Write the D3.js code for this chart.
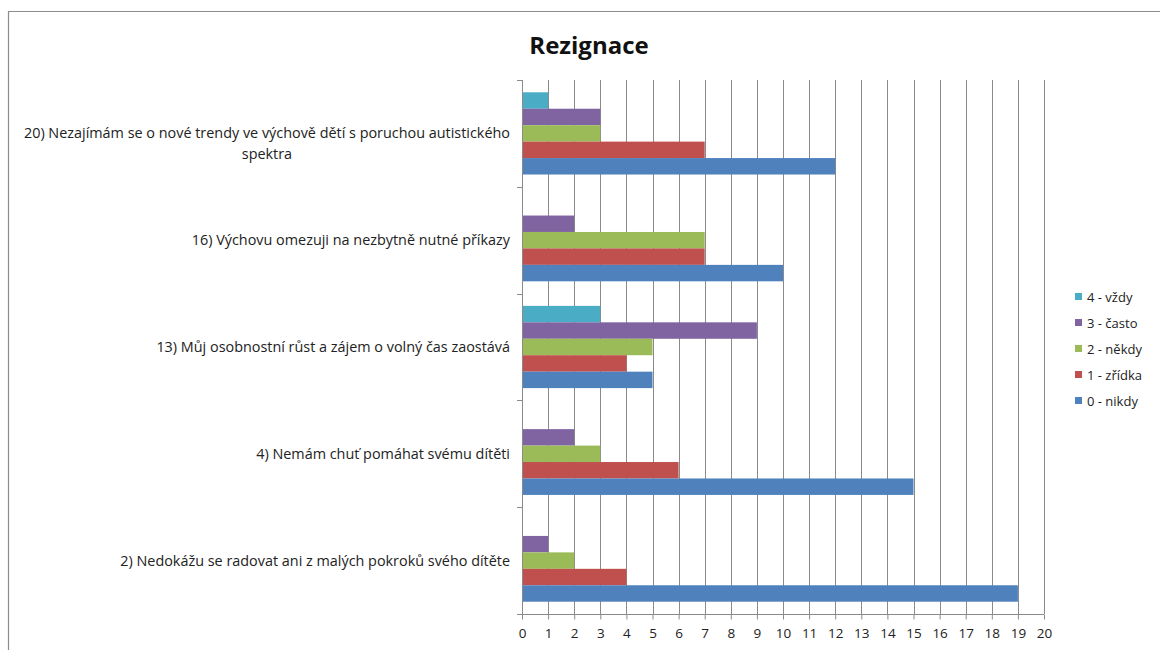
<!DOCTYPE html>
<html>
<head>
<meta charset="utf-8">
<script src="https://cdn.jsdelivr.net/npm/d3@7"></script>
<style>
  body { margin: 0; background: #fff; }
  svg { font-family: "Open Sans", Lato, sans-serif; }
</style>
</head>
<body>
<div id="chart"></div>
<script>
// otazky shora dolu
const questions = [
    "20) Nezajímám se o nové trendy ve výchově dětí s poruchou autistického spektra",
    "16) Výchovu omezuji na nezbytně nutné příkazy",
    "13) Můj osobnostní růst a zájem o volný čas zaostává",
    "4) Nemám chuť pomáhat svému dítěti",
    "2) Nedokážu se radovat ani z malých pokroků svého dítěte"
];
const answers = ["4 - vždy", "3 - často", "2 - někdy", "1 - zřídka", "0 - nikdy"];
const vzdy    = [1, 0, 3, 0, 0];
const casto   = [3, 2, 9, 2, 1];
const nekdy   = [3, 7, 5, 3, 2];
const zridka  = [7, 7, 4, 6, 4];
const nikdy   = [12, 10, 5, 15, 19];
const xTicks = d3.range(0, 21);

const seriesValues = [vzdy, casto, nekdy, zridka, nikdy];
const colors = ["#4BACC6", "#8064A2", "#9BBB59", "#C0504D", "#4F81BD"];

const W = 1160, H = 650;
const plot = {left: 522, right: 1044, top: 80, bottom: 614};

const svg = d3.select("#chart").append("svg")
    .attr("width", W)
    .attr("height", H);

// ramecek grafu
svg.append("path")
    .attr("d", "M8.5," + H + "V11.5H" + W)
    .attr("fill", "none")
    .attr("stroke", "#8c8c8c")
    .attr("stroke-width", 1.2);

svg.append("text")
    .attr("x", 589)
    .attr("y", 54)
    .attr("text-anchor", "middle")
    .style("font-size", "24px")
    .style("font-weight", "bold")
    .style("fill", "#111")
    .text("Rezignace");

const x = d3.scaleLinear().domain([0, 20]).range([plot.left, plot.right]);
const y = d3.scaleBand().domain(questions).range([plot.top, plot.bottom]).paddingInner(0.23).paddingOuter(0.115);
const ySub = d3.scaleBand().domain(answers).range([0, y.bandwidth()]);

// mrizka
svg.append("g")
    .selectAll("line")
    .data(xTicks.slice(1))
    .join("line")
    .attr("x1", d => Math.round(x(d)) + 0.5)
    .attr("x2", d => Math.round(x(d)) + 0.5)
    .attr("y1", plot.top)
    .attr("y2", plot.bottom)
    .attr("stroke", "#8a8a8a")
    .attr("stroke-width", 1);

// sloupce
const groups = svg.append("g")
    .selectAll("g")
    .data(questions)
    .join("g")
    .attr("transform", d => "translate(0," + y(d) + ")");

groups.selectAll("rect")
    .data((q, qi) => answers.map((a, ai) => ({answer: a, value: seriesValues[ai][qi], color: colors[ai]})))
    .join("rect")
    .attr("x", x(0))
    .attr("y", d => ySub(d.answer))
    .attr("width", d => x(d.value) - x(0))
    .attr("height", ySub.bandwidth())
    .attr("fill", d => d.color);

// osy
const xAxis = svg.append("g")
    .attr("transform", "translate(0," + (plot.bottom + 0.5) + ")")
    .call(d3.axisBottom(x).tickValues(xTicks).tickFormat(d3.format("d")).tickSize(5).tickSizeOuter(0));
xAxis.select(".domain").attr("stroke", "#8a8a8a").attr("d", "M" + (plot.left - 5) + ",0H" + plot.right);
xAxis.selectAll(".tick line").attr("stroke", "#8a8a8a");
xAxis.selectAll(".tick text")
    .attr("dy", "0.71em")
    .attr("y", 14)
    .style("font-size", "13.5px")
    .style("fill", "#222")
    .style("font-family", "'Open Sans', sans-serif");

const boundaries = d3.range(0, questions.length + 1).map(i => plot.top + i * (plot.bottom - plot.top) / questions.length);
const yAxis = svg.append("g");
yAxis.append("line")
    .attr("x1", plot.left + 0.5).attr("x2", plot.left + 0.5)
    .attr("y1", plot.top).attr("y2", plot.bottom)
    .attr("stroke", "#8a8a8a");
yAxis.selectAll(".tk")
    .data(boundaries)
    .join("line")
    .attr("class", "tk")
    .attr("x1", plot.left - 5).attr("x2", plot.left)
    .attr("y1", d => Math.round(d) + 0.5).attr("y2", d => Math.round(d) + 0.5)
    .attr("stroke", "#8a8a8a");

// popisky kategorii
const labelRight = 510;
const maxLabelWidth = 505;
const labels = svg.append("g")
    .style("font-size", "14.4px")
    .style("fill", "#222");

questions.forEach(q => {
    const cy = y(q) + y.bandwidth() / 2;
    const t = labels.append("text").attr("text-anchor", "middle");
    // zalamovani textu
    const words = q.split(" ");
    const lines = [];
    let line = [];
    const probe = labels.append("text");
    words.forEach(w => {
        line.push(w);
        probe.text(line.join(" "));
        if (probe.node().getComputedTextLength() > maxLabelWidth && line.length > 1) {
            line.pop();
            lines.push(line.join(" "));
            line = [w];
        }
    });
    lines.push(line.join(" "));
    let blockW = 0;
    lines.forEach(l => {
        probe.text(l);
        blockW = Math.max(blockW, probe.node().getComputedTextLength());
    });
    probe.remove();
    const cx = labelRight - blockW / 2;
    const lh = 21;
    // prvni radek je na stredu skupiny
    lines.forEach((l, i) => {
        t.append("tspan")
            .attr("x", cx)
            .attr("y", cy + i * lh)
            .attr("dy", "0.35em")
            .text(l);
    });
});

// legenda
const legend = svg.append("g")
    .selectAll("g")
    .data(answers)
    .join("g")
    .attr("transform", (d, i) => "translate(1075," + (297 + i * 26) + ")");
legend.append("rect")
    .attr("x", 0).attr("y", -4)
    .attr("width", 7).attr("height", 7)
    .attr("fill", (d, i) => colors[i]);
legend.append("text")
    .attr("x", 12)
    .attr("dy", "0.35em")
    .style("font-size", "13px")
    .style("fill", "#222")
    .text(d => d);
</script>
</body>
</html>
